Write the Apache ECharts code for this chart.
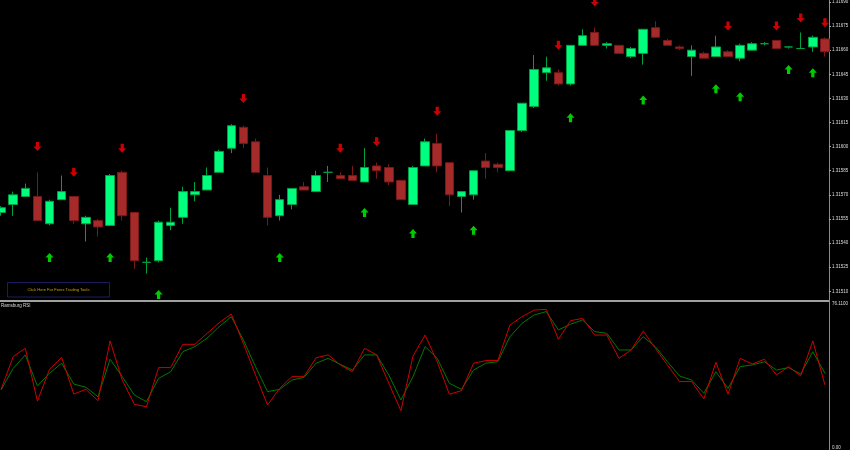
<!DOCTYPE html>
<html><head><meta charset="utf-8">
<script src="https://cdn.jsdelivr.net/npm/echarts@6/dist/echarts.min.js"></script>
<style>html,body{margin:0;padding:0;background:#000}#c{width:850px;height:450px}</style>
</head><body><div id="c"></div>
<script>
// ---- data ----
const bars = Array.from({length: 69}, (_, i) => String(i + 1));
const opens = [1.31559,1.31564,1.31569,1.31569,1.31552,1.31567,1.31569,1.31552,1.31554,1.31551,1.31584,1.31559,1.31528,1.31529,1.31551,1.31556,1.31570,1.31573,1.31584,1.31599,1.31612,1.31603,1.31582,1.31557,1.31564,1.31575,1.31572,1.31584,1.31582,1.31582,1.31578,1.31588,1.31587,1.31579,1.31564,1.31588,1.31602,1.31590,1.31569,1.31570,1.31591,1.31589,1.31585,1.31610,1.31625,1.31646,1.31646,1.31639,1.31663,1.31671,1.31663,1.31663,1.31656,1.31658,1.31674,1.31666,1.31662,1.31656,1.31658,1.31656,1.31659,1.31655,1.31660,1.31664,1.31666,1.31662,1.31661,1.31662,1.31667];
const closes = [1.31562,1.31570,1.31574,1.31554,1.31566,1.31572,1.31554,1.31556,1.31550,1.31582,1.31557,1.31529,1.31528,1.31553,1.31553,1.31572,1.31572,1.31582,1.31597,1.31613,1.31602,1.31584,1.31556,1.31567,1.31574,1.31573,1.31582,1.31584,1.31580,1.31579,1.31587,1.31585,1.31578,1.31567,1.31587,1.31603,1.31588,1.31570,1.31572,1.31585,1.31587,1.31587,1.31610,1.31627,1.31648,1.31649,1.31639,1.31663,1.31669,1.31663,1.31664,1.31658,1.31661,1.31673,1.31668,1.31663,1.31661,1.31660,1.31655,1.31662,1.31656,1.31663,1.31664,1.31664,1.31661,1.31662,1.31661,1.31668,1.31659];
const lows = [1.31557,1.31557,1.31569,1.31554,1.31551,1.31567,1.31552,1.31541,1.31544,1.31551,1.31554,1.31524,1.31521,1.31528,1.31548,1.31552,1.31566,1.31573,1.31584,1.31596,1.31599,1.31584,1.31551,1.31554,1.31561,1.31573,1.31572,1.31578,1.31580,1.31579,1.31578,1.31580,1.31576,1.31567,1.31564,1.31588,1.31584,1.31563,1.31559,1.31567,1.31580,1.31584,1.31585,1.31609,1.31624,1.31641,1.31638,1.31638,1.31663,1.31663,1.31661,1.31658,1.31655,1.31651,1.31668,1.31663,1.31660,1.31644,1.31655,1.31656,1.31656,1.31653,1.31660,1.31663,1.31661,1.31661,1.31661,1.31659,1.31656];
const highs = [1.31563,1.31572,1.31577,1.31584,1.31567,1.31582,1.31569,1.31557,1.31555,1.31583,1.31585,1.31559,1.31531,1.31554,1.31562,1.31575,1.31578,1.31587,1.31598,1.31614,1.31613,1.31605,1.31587,1.31570,1.31574,1.31578,1.31585,1.31588,1.31584,1.31588,1.31599,1.31590,1.31589,1.31579,1.31588,1.31605,1.31608,1.31590,1.31572,1.31585,1.31596,1.31590,1.31610,1.31627,1.31657,1.31656,1.31648,1.31663,1.31673,1.31674,1.31665,1.31663,1.31662,1.31673,1.31678,1.31667,1.31663,1.31663,1.31659,1.31669,1.31660,1.31664,1.31665,1.31665,1.31666,1.31662,1.31671,1.31669,1.31668];

const sellIdx = [3,6,10,20,28,31,36,46,49,60,64,66,68];
const sellPrice = [1.31600,1.31584,1.31599,1.31630,1.31599,1.31603,1.31622,1.31663,1.31690,1.31675,1.31675,1.31680,1.31677];
const buyIdx = [4,9,13,23,30,34,39,47,53,59,61,65,67];
const buyPrice = [1.31531,1.31531,1.31508,1.31531,1.31559,1.31546,1.31548,1.31618,1.31629,1.31636,1.31631,1.31648,1.31646];

const rsiMain = [31.0,48.3,52.7,24.8,41.6,47.9,28.5,31.0,25.0,56.6,35.9,23.1,21.8,42.5,42.5,54.8,54.8,60.6,66.2,70.8,55.3,38.6,22.7,31.5,37.7,37.7,47.7,49.2,43.9,40.3,52.7,49.2,34.2,19.7,48.6,59.7,45.6,28.4,30.3,44.8,46.2,46.2,65.0,69.4,72.9,73.3,57.4,67.3,68.5,59.7,59.7,47.4,51.8,61.8,52.7,43.9,35.1,35.1,25.9,45.3,28.4,47.4,44.4,46.9,38.6,43.0,38.1,56.6,33.3];
const rsiSignal = [30.7,42.1,49.2,32.8,39.5,44.8,33.8,32.1,27.1,46.9,37.7,28.0,24.5,36.8,40.3,50.9,53.6,58.0,64.1,69.4,57.1,43.0,29.8,31.0,35.9,37.3,44.8,47.4,44.2,41.2,49.2,49.2,38.6,25.4,37.7,53.6,47.4,34.2,31.0,41.2,44.8,45.6,58.8,65.9,70.3,72.1,62.4,65.4,67.7,61.5,60.6,51.8,51.8,58.8,53.6,45.6,38.1,35.9,28.9,40.3,31.5,43.0,43.9,45.6,41.2,42.5,39.1,50.9,39.5];

const priceTicks = [1.31690,1.31675,1.31660,1.31645,1.31630,1.31615,1.31600,1.31585,1.31570,1.31555,1.31540,1.31525,1.31510];
const rsiTicks = [76.11, 0];
const rsiTickText = ['76.1100', '0.00'];
const indicatorName = 'Ramsburg RSI';
const buttonText = 'Click Here For Forex Trading Tools';

// ---- chart ----
const ohlc = opens.map((o, i) => [o, closes[i], lows[i], highs[i]]);
const sells = sellIdx.map((x, i) => [x, sellPrice[i]]);
const buys = buyIdx.map((x, i) => [x, buyPrice[i]]);

const downArrow = 'path://M3,0 L7,0 L7,5 L10,5 L5,10 L0,5 L3,5 Z';
const upArrow = 'path://M3,10 L7,10 L7,5 L10,5 L5,0 L0,5 L3,5 Z';
const FONT = 'Liberation Sans';

const chart = echarts.init(document.getElementById('c'), null, {renderer: 'canvas'});
chart.setOption({
  backgroundColor: '#000',
  animation: false,
  grid: [
    {left: -5, width: 836, top: 0, height: 299, outerBoundsMode: 'none', containLabel: false},
    {left: -5, width: 836, top: 304, height: 144, outerBoundsMode: 'none', containLabel: false}
  ],
  xAxis: [
    {type: 'category', data: bars, gridIndex: 0, show: false},
    {type: 'category', data: bars, gridIndex: 1, show: false}
  ],
  yAxis: [
    {type: 'value', gridIndex: 0, position: 'right', offset: -2, min: 1.315052, max: 1.316912,
     splitLine: {show: false}, axisLine: {show: false},
     axisTick: {show: true, customValues: priceTicks, length: 2, lineStyle: {color: '#aaa'}},
     axisLabel: {customValues: priceTicks, formatter: v => v.toFixed(5), color: '#ddd', fontSize: 4.5, fontFamily: FONT, margin: 3}},
    {type: 'value', gridIndex: 1, position: 'right', offset: -2, min: 0, max: 76.11,
     splitLine: {show: false}, axisLine: {show: false}, axisTick: {show: false},
     axisLabel: {customValues: rsiTicks, formatter: v => rsiTickText[rsiTicks.indexOf(v)] || '', color: '#ddd', fontSize: 4.5, fontFamily: FONT, margin: 3}}
  ],
  series: [
    {type: 'candlestick', xAxisIndex: 0, yAxisIndex: 0, data: ohlc, barWidth: 9,
     itemStyle: {color: '#00FF7F', color0: '#A52A2A', borderColor: '#00A040', borderColor0: '#7A1818', borderColorDoji: '#00A040', borderWidth: 1}},
    {type: 'scatter', xAxisIndex: 0, yAxisIndex: 0, data: sells, symbol: downArrow, symbolSize: [8, 9],
     itemStyle: {color: '#FF0000'}, z: 5},
    {type: 'scatter', xAxisIndex: 0, yAxisIndex: 0, data: buys, symbol: upArrow, symbolSize: [8, 9],
     itemStyle: {color: '#00FF00'}, z: 5},
    {type: 'line', xAxisIndex: 1, yAxisIndex: 1, data: rsiSignal, symbol: 'none',
     lineStyle: {color: '#007A00', width: 1}, z: 2},
    {type: 'line', xAxisIndex: 1, yAxisIndex: 1, data: rsiMain, symbol: 'none',
     lineStyle: {color: '#D00000', width: 1}, z: 3}
  ],
  graphic: [
    {type: 'line', shape: {x1: 829.5, y1: 0, x2: 829.5, y2: 450}, style: {stroke: '#8a8a8a', lineWidth: 1}, silent: true},
    {type: 'rect', shape: {x: 0, y: 300, width: 829, height: 2}, style: {fill: '#a0a0a0'}, silent: true},
    {type: 'rect', shape: {x: 7.5, y: 282.5, width: 102, height: 14.5}, style: {fill: '#000', stroke: '#1c1c5e', lineWidth: 1}, silent: true},
    {type: 'text', x: 58.5, y: 290, style: {text: buttonText, fill: '#C8A000', font: '4px "Liberation Sans"', align: 'center', verticalAlign: 'middle'}, silent: true},
    {type: 'text', x: 1, y: 305.5, style: {text: indicatorName, fill: '#ddd', font: '4.5px "Liberation Sans"', align: 'left', verticalAlign: 'middle'}, silent: true}
  ]
});
</script></body></html>
